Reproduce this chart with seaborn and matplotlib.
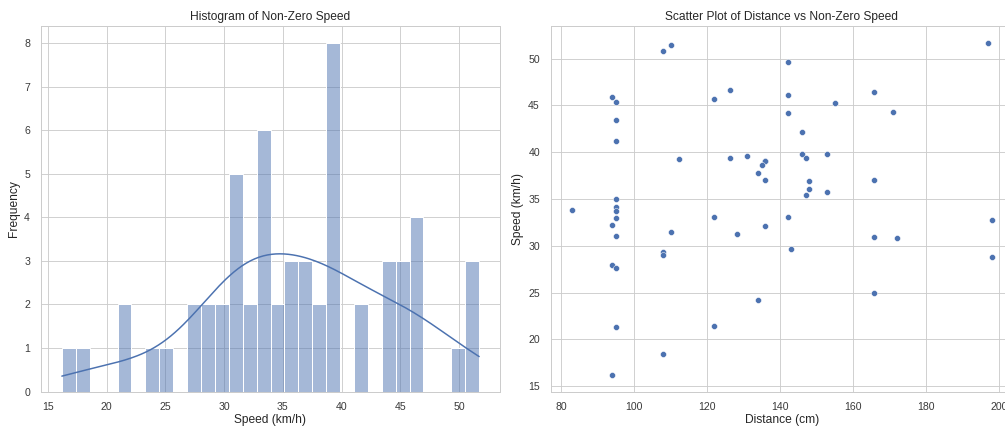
import matplotlib
matplotlib.use("Agg")
import matplotlib.pyplot as plt
import seaborn as sns
import pandas as pd

# Non-zero speed readings with the distance measured at the same moment
distance_cm = [
    107.9, 109.9, 196.8, 142.0, 126.1, 93.8, 95.0, 121.8, 142.0, 165.8,
    154.9, 170.9, 142.0, 95.0, 145.9, 95.0, 112.2, 126.1, 130.8, 135.8,
    135.8, 135.0, 145.9, 147.0, 152.9, 133.9, 135.8, 147.9, 147.9, 147.0,
    152.9, 165.8, 95.0, 82.9, 95.0, 95.0, 95.0, 93.8, 95.0, 121.8,
    142.0, 197.9, 109.9, 128.0, 135.8, 165.8, 172.0, 107.9, 107.9, 142.9,
    93.8, 95.0, 197.9, 165.8, 133.9, 95.0, 121.8, 107.9, 93.8,
]
speed_kmh = [
    50.85, 51.4, 51.7, 49.64, 46.6, 45.85, 45.4, 45.7, 46.05, 46.4,
    45.2, 44.3, 44.2, 43.45, 42.2, 41.14, 39.29, 39.4, 39.6, 39.07,
    39.07, 38.65, 39.75, 39.4, 39.75, 37.76, 37.0, 36.9, 36.1, 35.37,
    35.7, 37.0, 34.95, 33.84, 34.16, 33.74, 32.95, 32.2, 31.0, 33.1,
    33.1, 32.8, 31.46, 31.25, 32.1, 30.9, 30.78, 29.3, 29.04, 29.6,
    27.97, 27.6, 28.83, 25.0, 24.16, 21.3, 21.4, 18.47, 16.2,
]

df = pd.DataFrame({"Distance": distance_cm, "Speed": speed_kmh})

sns.set_theme(style="whitegrid")
plt.rcParams["font.family"] = ["Liberation Sans", "DejaVu Sans"]
plt.rcParams["axes.edgecolor"] = "#cccccc"
plt.rcParams["grid.color"] = "#cccccc"
plt.rcParams["grid.linewidth"] = 0.9
plt.rcParams["axes.linewidth"] = 1.0

DPI = 72
fig = plt.figure(figsize=(1005 / DPI, 427 / DPI), dpi=DPI)

H = 427.0
W = 1005.0
top, bottom = 26.0, 391.5
ax1 = fig.add_axes([41 / W, 1 - bottom / H, (500 - 41) / W, (bottom - top) / H])
ax2 = fig.add_axes([551 / W, 1 - bottom / H, (1012.6 - 551) / W, (bottom - top) / H])

TXT = "#262626"

# Histogram with density curve
sns.histplot(data=df, x="Speed", bins=30, kde=True, ax=ax1)
ax1.set_title("Histogram of Non-Zero Speed", fontsize=12, color=TXT, pad=6)
ax1.set_xlabel("Speed (km/h)", fontsize=12, color=TXT, labelpad=1)
ax1.set_ylabel("Frequency", fontsize=12, color=TXT, labelpad=4)

# Distance against speed
sns.scatterplot(data=df, x="Distance", y="Speed", ax=ax2, s=36)
ax2.set_title("Scatter Plot of Distance vs Non-Zero Speed", fontsize=12, color=TXT, pad=6)
ax2.set_xlabel("Distance (cm)", fontsize=12, color=TXT, labelpad=1)
ax2.set_ylabel("Speed (km/h)", fontsize=12, color=TXT, labelpad=4)

for ax in (ax1, ax2):
    ax.tick_params(labelsize=10.5, colors="#3a3a3a", pad=5)

fig.savefig("out.png", dpi=DPI)
